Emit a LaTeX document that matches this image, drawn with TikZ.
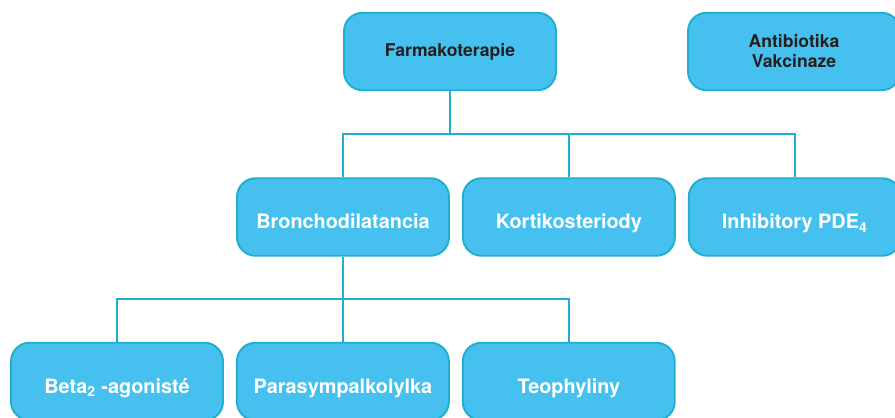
\documentclass[tikz,border=0pt]{standalone}
\usepackage{fontspec}
\setmainfont{TeX Gyre Heros}
\usepackage{xcolor}
\usepackage{tikz}
\usetikzlibrary{positioning}
\definecolor{boxblue}{RGB}{70,193,239}
\definecolor{edgeblue}{RGB}{32,175,206}
\definecolor{textdark}{RGB}{35,31,32}

\begin{document}
\begin{tikzpicture}[x=0.02cm, y=-0.02cm,
    box/.style={draw=edgeblue, line width=1.1pt, fill=boxblue, rounded corners=0.37cm,
        minimum width=4.24cm, minimum height=1.55cm, align=center, text=white,
        text height=15pt, text depth=1.5pt,
        font=\fontsize{11.3}{13}\selectfont\bfseries},
    topbox/.style={box, text=textdark, text height=, text depth=,
        font=\fontsize{10}{11.4}\selectfont\bfseries},
    link/.style={draw=edgeblue, line width=1.2pt}]
    \useasboundingbox (0,0) rectangle (895,418);

    % Top row
    \node[topbox] (farm) at (450,51.5) {Farmakoterapie};
    \node[topbox] (anti) at (794,51.5) {Antibiotika\\Vakcinaze};

    % Second row
    \node[box] (bron) at (343,217) {Bronchodilatancia};
    \node[box, right=0.24cm of bron] (kort) {Kortikosteriody};
    \node[box, right=0.24cm of kort] (inhib) {Inhibitory PDE\textsubscript{4}};

    % Third row
    \node[box] (beta) at (117,381.5) {Beta\textsubscript{2} -agonisté};
    \node[box, right=0.24cm of beta] (para) {Parasympalkolylka};
    \node[box, right=0.24cm of para] (teo) {Teophyliny};

    % Connectors
    \draw[link] (farm.south) -- ++(0,43) coordinate (split1);
    \draw[link] (bron.north) |- (split1) -| (inhib.north);
    \draw[link] (split1) -| (kort.north);
    \draw[link] (bron.south) -- ++(0,42) coordinate (split2);
    \draw[link] (beta.north) |- (split2) -| (teo.north);
    \draw[link] (split2) -- (split2 |- para.north);
\end{tikzpicture}
\end{document}
